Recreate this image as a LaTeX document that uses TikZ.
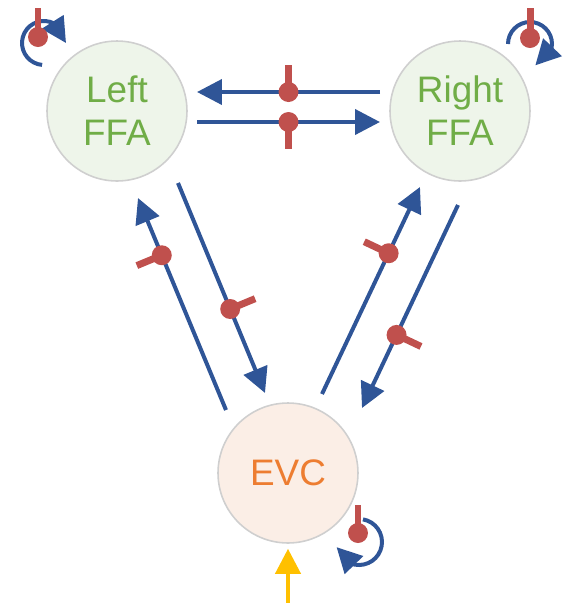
\documentclass[tikz,border=0pt]{standalone}
\usepackage{fontspec}
\setmainfont{Liberation Sans}
\usetikzlibrary{arrows.meta,calc,bending}

\definecolor{arrowblue}{HTML}{2F5597}
\definecolor{knobred}{HTML}{C0504D}
\definecolor{ffagreen}{HTML}{70AD47}
\definecolor{ffafill}{HTML}{EEF5EA}
\definecolor{evcorange}{HTML}{ED7D31}
\definecolor{evcfill}{HTML}{FBEEE6}
\definecolor{ringgray}{HTML}{CFCFCF}
\definecolor{inputyellow}{HTML}{FFC000}

\tikzset{
  region/.style={circle, minimum size=2.8cm, inner sep=0pt, draw=ringgray,
    line width=0.9pt, align=center, font=\fontsize{21}{24.5}\selectfont},
  conn/.style={arrowblue, line width=0.08cm, -{Triangle[length=0.5cm,width=0.5cm]}},
  knobbar/.style={knobred, line width=0.14cm},
}

% knob on a connector: start, end, position, side
\newcommand{\knob}[4]{%
  \coordinate (kn) at ($(#1)!#3!(#2)$);
  \draw[knobbar] (kn) -- ($(kn)!0.54cm!#4:(#2)$);
  \fill[knobred] (kn) circle (0.2cm);
}

\begin{document}
\begin{tikzpicture}[x=0.02cm, y=-0.02cm]
    \useasboundingbox (0,0) rectangle (568,603);

    \node[region, fill=ffafill, text=ffagreen] (lffa) at (117,111) {Left\\FFA};
    \node[region, fill=ffafill, text=ffagreen] (rffa) at (460,111) {Right\\FFA};
    \node[region, fill=evcfill, text=evcorange] (evc) at (288,473) {EVC};

    % Left FFA <-> Right FFA
    \coordinate (t1s) at (380,92);
    \coordinate (t1e) at (197,92);
    \coordinate (t2s) at (197,122);
    \coordinate (t2e) at (380,122);
    \draw[conn] (t1s) -- (t1e);
    \draw[conn] (t2s) -- (t2e);
    \knob{t1s}{t1e}{0.5}{-90}
    \knob{t2s}{t2e}{0.5}{-90}

    % EVC <-> Left FFA
    \coordinate (l1s) at (226,410);
    \coordinate (l1e) at (138,198);
    \coordinate (l2s) at (178,183);
    \coordinate (l2e) at (265,393);
    \draw[conn] (l1s) -- (l1e);
    \draw[conn] (l2s) -- (l2e);
    \knob{l1s}{l1e}{0.73}{90}
    \knob{l2s}{l2e}{0.6}{90}

    % EVC <-> Right FFA
    \coordinate (r1s) at (322,394);
    \coordinate (r1e) at (420,187);
    \coordinate (r2s) at (458,205);
    \coordinate (r2e) at (362,408);
    \draw[conn] (r1s) -- (r1e);
    \draw[conn] (r2s) -- (r2e);
    \knob{r1s}{r1e}{0.68}{90}
    \knob{r2s}{r2e}{0.64}{90}

    % self connections
    \draw[conn] (44,43) ++(265:0.44cm) arc[start angle=265, end angle=0, radius=0.44cm];
    \draw[knobbar] (38,37) -- ++(0,-29);
    \fill[knobred] (38,37) circle (0.2cm);

    \draw[conn] (530,44) ++(180:0.44cm) arc[start angle=180, end angle=-76, radius=0.44cm];
    \draw[knobbar] (530,38) -- ++(0,-30);
    \fill[knobred] (530,38) circle (0.2cm);

    \draw[conn] (359,542) ++(80:0.46cm) arc[start angle=80, end angle=-167, radius=0.46cm];
    \draw[knobbar] (358,533) -- ++(0,-28);
    \fill[knobred] (358,533) circle (0.2cm);

    % input
    \coordinate (inp) at (288,603);
    \draw[conn, inputyellow] (inp) -- ([yshift=-0.1cm]evc.south);
\end{tikzpicture}
\end{document}
